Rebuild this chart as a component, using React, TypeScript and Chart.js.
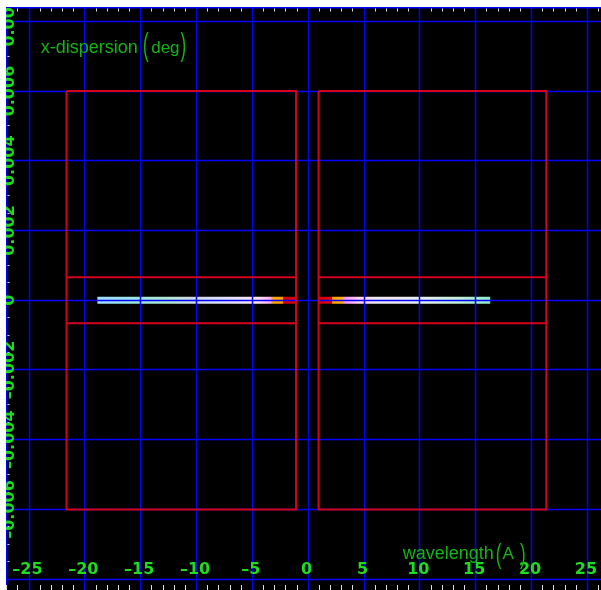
import { useEffect, useRef } from "react";
import { Chart, registerables } from "chart.js";

Chart.register(...registerables);

// Axis ranges: wavelength offset (Å) across, dispersion angle (deg) up
const X_MIN = -27.06;
const X_MAX = 26.22;
const Y_MIN = -0.00831;
const Y_MAX = 0.00841;

const xMajor = [-25, -20, -15, -10, -5, 0, 5, 10, 15, 20, 25];
const xMajorLabels = ["–25", "–20", "–15", "–10", "–5", "0", "5", "10", "15", "20", "25"];
const X_MINOR_STEP = 1;

const yMajor = [-0.008, -0.006, -0.004, -0.002, 0, 0.002, 0.004, 0.006, 0.008];
const yMajorLabels = ["", "–0.006", "–0.004", "–0.002", "0", "0.002", "0.004", "0.006", "0.008"];
const Y_MINOR_STEP = 0.0005;

// Detector outlines on both sides of zero order
const leftDetectorX = [-21.64, -1.09];
const rightDetectorX = [0.93, 21.32];
const detectorY = [-0.006, 0.006];
const slitY = [-0.00066, 0.00066];

// Dispersed spectra
const leftSpectrumX = [-18.88, -1.18];
const rightSpectrumX = [0.97, 16.3];
const SPECTRUM_Y = 0;

// Colour stops along each spectrum (Å)
const leftStops = [-18.88, -15.5, -12.5, -10, -7, -4.5, -3.3, -3.28, -2.27, -2.25, -1.18];
const leftStopColors = [
  "#a0dcff", "#98e8e0", "#b0e8d0", "#d0d8e8", "#e4e0ff", "#ffe6ee",
  "#ffa8f0", "#ffaa10", "#ffa000", "#dd0010", "#d00000",
];
const rightStops = [0.97, 2.1, 2.12, 3.14, 3.16, 4.5, 6, 10, 13, 16.3];
const rightStopColors = [
  "#d00000", "#e00010", "#ffa000", "#ffb020", "#ff90ff", "#ffd0f0",
  "#f0e8f0", "#e8ecf0", "#c8f0d8", "#90e8c8",
];

const GRID_COLOR = "#0000ff";
const OUTLINE_COLOR = "#d4001c";
const TICK_COLOR = "#dddddd";
const LABEL_COLOR = "#1fdc1f";
const TITLE_COLOR = "#14b414";
const LABEL_FONT = "bold 16px 'DejaVu Sans'";
const TITLE_FONT = "18px 'Liberation Sans'";
const UNIT_FONT = "17px 'Liberation Sans'";

// index of the last spectrum drawn; grid goes on top of it
const GRID_AFTER_DATASET = 1;

function spectrumGradient(stops: number[], colors: string[]) {
  return (ctx: any) => {
    const chart = ctx.chart;
    const xs = chart.scales && chart.scales.x;
    if (!xs || !chart.chartArea) return colors[0];
    const a = xs.getPixelForValue(stops[0]);
    const b = xs.getPixelForValue(stops[stops.length - 1]);
    const g = chart.ctx.createLinearGradient(a, 0, b, 0);
    stops.forEach((s, i) => {
      const t = (xs.getPixelForValue(s) - a) / (b - a);
      g.addColorStop(Math.min(1, Math.max(0, t)), colors[i]);
    });
    return g;
  };
}

function outline(xr: number[], yr: number[]) {
  return [
    { x: xr[0], y: yr[1] },
    { x: xr[1], y: yr[1] },
    { x: xr[1], y: yr[0] },
    { x: xr[0], y: yr[0] },
    { x: xr[0], y: yr[1] },
  ];
}

function slitLines(xr: number[], yr: number[]) {
  return [
    { x: xr[0], y: yr[1] },
    { x: xr[1], y: yr[1] },
    { x: xr[1], y: null },
    { x: xr[0], y: yr[0] },
    { x: xr[1], y: yr[0] },
  ];
}

function inkText(ctx: CanvasRenderingContext2D, text: string, inkLeft: number, baseline: number, font: string) {
  ctx.font = font;
  ctx.textAlign = "left";
  ctx.textBaseline = "alphabetic";
  const m = ctx.measureText(text);
  ctx.fillText(text, inkLeft + m.actualBoundingBoxLeft, baseline);
}

function tallParen(ctx: CanvasRenderingContext2D, ch: string, inkLeft: number, top: number, bottom: number) {
  ctx.save();
  ctx.font = UNIT_FONT;
  ctx.textAlign = "left";
  ctx.textBaseline = "alphabetic";
  const m = ctx.measureText(ch);
  const h = m.actualBoundingBoxAscent + m.actualBoundingBoxDescent;
  ctx.translate(inkLeft + m.actualBoundingBoxLeft, top);
  ctx.scale(1, (bottom - top) / h);
  ctx.fillText(ch, 0, m.actualBoundingBoxAscent);
  ctx.restore();
}

const framePlugin = {
  id: "frame",
  beforeDraw(chart: any) {
    const { ctx, width, height } = chart;
    ctx.save();
    ctx.fillStyle = "#000000";
    ctx.fillRect(0, 0, width, height);
    ctx.restore();
  },
  afterDatasetDraw(chart: any, args: any) {
    if (args.index !== GRID_AFTER_DATASET) return;
    const { ctx, width, height } = chart;
    const xs = chart.scales.x;
    const ys = chart.scales.y;
    ctx.save();
    ctx.strokeStyle = GRID_COLOR;
    ctx.lineWidth = 1.5;
    ctx.beginPath();
    xMajor.forEach((v) => {
      const px = Math.floor(xs.getPixelForValue(v)) + 0.5;
      ctx.moveTo(px, 0);
      ctx.lineTo(px, height);
    });
    yMajor.forEach((v) => {
      const py = Math.floor(ys.getPixelForValue(v)) + 0.5;
      ctx.moveTo(0, py);
      ctx.lineTo(width, py);
    });
    // frame edges at top and left
    ctx.moveTo(0, 0.75);
    ctx.lineTo(width, 0.75);
    ctx.moveTo(0.75, 0);
    ctx.lineTo(0.75, height);
    ctx.stroke();

    // minor ticks
    ctx.fillStyle = TICK_COLOR;
    for (let k = Math.ceil(X_MIN / X_MINOR_STEP); k <= Math.floor(X_MAX / X_MINOR_STEP); k++) {
      const v = k * X_MINOR_STEP;
      if (xMajor.includes(v)) continue;
      const px = Math.floor(xs.getPixelForValue(v));
      ctx.fillRect(px, 1.5, 1, 3);
      ctx.fillRect(px, height - 5, 1, 5);
    }
    for (let k = Math.ceil(Y_MIN / Y_MINOR_STEP); k <= Math.floor(Y_MAX / Y_MINOR_STEP); k++) {
      if (k % 4 === 0) continue;
      const py = Math.floor(ys.getPixelForValue(k * Y_MINOR_STEP));
      ctx.fillRect(1.5, py, 2, 1);
    }
    ctx.restore();
  },
  afterDraw(chart: any) {
    const { ctx } = chart;
    const xs = chart.scales.x;
    const ys = chart.scales.y;
    ctx.save();
    ctx.fillStyle = LABEL_COLOR;
    ctx.font = LABEL_FONT;
    ctx.textAlign = "center";
    ctx.textBaseline = "alphabetic";
    xMajor.forEach((v, i) => {
      ctx.fillText(xMajorLabels[i], xs.getPixelForValue(v) - 1.5, 566.5);
    });
    yMajor.forEach((v, i) => {
      if (!yMajorLabels[i]) return;
      ctx.save();
      ctx.translate(7.5, ys.getPixelForValue(v));
      ctx.rotate(-Math.PI / 2);
      ctx.fillText(yMajorLabels[i], 0, 0);
      ctx.restore();
    });

    ctx.fillStyle = TITLE_COLOR;
    inkText(ctx, "x-dispersion", 34.7, 45.8, TITLE_FONT);
    tallParen(ctx, "(", 138, 25.7, 53.7);
    inkText(ctx, "deg", 145.2, 45.8, UNIT_FONT);
    tallParen(ctx, ")", 174.5, 25.7, 53.7);

    inkText(ctx, "wavelength", 395.7, 552.3, TITLE_FONT);
    tallParen(ctx, "(", 490.7, 537, 561.3);
    inkText(ctx, "A", 496.5, 552.3, UNIT_FONT);
    tallParen(ctx, ")", 514, 537, 561.3);
    ctx.restore();
  },
};

export default function App() {
  const ref = useRef<HTMLCanvasElement>(null);

  useEffect(() => {
    const canvas = ref.current;
    if (!canvas) return;
    const spectrumStyle = {
      borderWidth: 7,
      borderCapStyle: "butt" as const,
      pointRadius: 0,
      fill: false,
    };
    const outlineStyle = {
      borderColor: OUTLINE_COLOR,
      borderWidth: 2,
      borderJoinStyle: "miter" as const,
      pointRadius: 0,
      fill: false,
      order: 1,
    };
    const chart = new Chart(canvas, {
      type: "line",
      data: {
        datasets: [
          {
            label: "short-wavelength side",
            data: leftSpectrumX.map((x) => ({ x, y: SPECTRUM_Y })),
            borderColor: spectrumGradient(leftStops, leftStopColors),
            order: 3,
            ...spectrumStyle,
          },
          {
            label: "long-wavelength side",
            data: rightSpectrumX.map((x) => ({ x, y: SPECTRUM_Y })),
            borderColor: spectrumGradient(rightStops, rightStopColors),
            order: 2,
            ...spectrumStyle,
          },
          { label: "left detector", data: outline(leftDetectorX, detectorY), ...outlineStyle },
          { label: "left slit", data: slitLines(leftDetectorX, slitY), ...outlineStyle },
          { label: "right detector", data: outline(rightDetectorX, detectorY), ...outlineStyle },
          { label: "right slit", data: slitLines(rightDetectorX, slitY), ...outlineStyle },
        ] as any,
      },
      options: {
        animation: false,
        responsive: false,
        maintainAspectRatio: false,
        devicePixelRatio: 1,
        events: [],
        layout: { padding: 0 },
        plugins: { legend: { display: false }, tooltip: { enabled: false } },
        elements: { line: { tension: 0 }, point: { radius: 0 } },
        scales: {
          x: { type: "linear", min: X_MIN, max: X_MAX, display: false },
          y: { type: "linear", min: Y_MIN, max: Y_MAX, display: false },
        },
      },
      plugins: [framePlugin],
    });
    return () => chart.destroy();
  }, []);

  return (
    <canvas
      ref={ref}
      width={595}
      height={583}
      style={{ position: "absolute", left: 6, top: 7, width: 595, height: 583, display: "block" }}
    />
  );
}
